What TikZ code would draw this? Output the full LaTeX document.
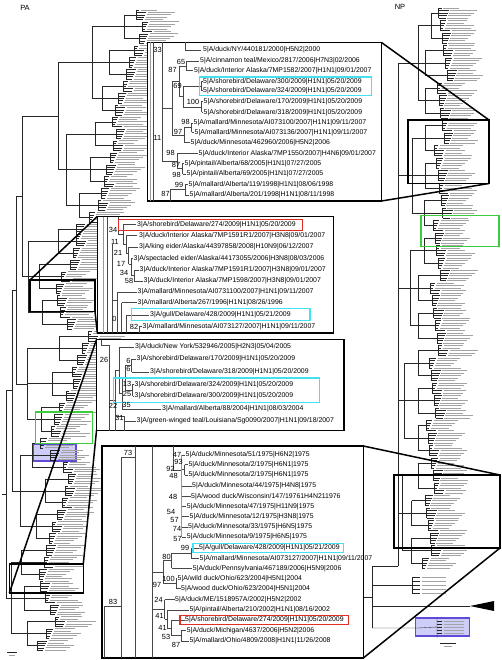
\documentclass[tikz,border=0pt]{standalone}
\usepackage{fontspec}
\setmainfont{Liberation Sans}
\definecolor{cyanc}{RGB}{70,225,240}
\definecolor{redc}{RGB}{225,45,35}
\definecolor{greenc}{RGB}{60,205,60}
\definecolor{purplec}{RGB}{95,75,215}
\definecolor{purplefill}{RGB}{205,205,248}
\tikzset{
 tl/.style={line width=0.35pt, black!85},
 lbar/.style={line width=0.9pt, black!36},
 itree/.style={line width=0.55pt, black!72},
 ithick/.style={line width=1.4pt, black!40},
 leaf/.style={anchor=west, inner sep=0pt, font=\fontsize{6.9}{7}\selectfont},
 boot/.style={inner sep=0pt, font=\fontsize{7.4}{8}\selectfont},
 ttl/.style={inner sep=0pt, font=\fontsize{7.5}{8}\selectfont},
 inset/.style={draw=black, line width=1.6pt, fill=white},
 zbox/.style={draw=black, line width=1.5pt},
 link/.style={line width=1.5pt, black},
 cyanbox/.style={draw=cyanc, line width=1.3pt},
 redbox/.style={draw=redc, line width=1.3pt},
 greenbox/.style={draw=greenc, line width=1.5pt},
 purplebox/.style={draw=purplec, fill=purplefill, line width=1.5pt},
}
\def\Barr{{140,138,136,132,128,126,124,120,118,116,112,110,108,105,104,102,100,92,80,72,70,68,60,56,58,62,70,92,78,74,70,72,66,60,56,54,44,46,60,66,64,62,58,54,52,50,40,36,38,44,50,56,48,40}}
\def\Garr{{124,109,102,95,90,79,58,39,42,59,52,41,32,45,36,21,24,27}}
\def\Sarr{{92,66,28,27,20,11}}
\begin{document}
\begin{tikzpicture}[x=1pt,y=-1pt]
\useasboundingbox (0,0) rectangle (502,660);
\fill[white] (0,0) rectangle (502,660);

% purple highlight boxes (under the trees)
\draw[purplebox] (33.3,444) rectangle (76,461);
\draw[purplebox] (415.7,618) rectangle (469.3,636);

% ===== PA tree =====
\foreach \k in {0,...,53}{
  \pgfmathsetmacro{\ya}{10+11.9*\k}
  \pgfmathsetmacro{\yb}{\ya+9.52}
  \pgfmathsetmacro{\xc}{\Barr[\k]+mod(\k*17,9)-4}
  \draw[tl] (\xc,\ya) -- (\xc,\yb);
  \foreach \j in {0,...,4}{
    \pgfmathsetmacro{\yy}{\ya+2.38*\j}
    \pgfmathsetmacro{\xt}{\xc+3+mod((5*\k+\j)*7,8)}
    \pgfmathsetmacro{\xs}{\xt+1.5}
    \pgfmathsetmacro{\tlen}{16+mod((5*\k+\j)*11,14)}
    \draw[tl] (\xc,\yy) -- (\xt,\yy);
    \draw[lbar] (\xs,\yy) -- ++(\tlen,0);
  }
}
\foreach \g in {0,...,17}{
  \pgfmathsetmacro{\xg}{\Garr[\g]}
  \pgfmathsetmacro{\ya}{14.76+11.9*3*\g}
  \pgfmathsetmacro{\yb}{\ya+23.8}
  \draw[tl] (\xg,\ya) -- (\xg,\yb);
  \foreach \c in {0,1,2}{
    \pgfmathtruncatemacro{\kk}{3*\g+\c}
    \pgfmathsetmacro{\yc}{14.76+11.9*\kk}
    \pgfmathsetmacro{\xc}{\Barr[\kk]+mod(\kk*17,9)-4}
    \draw[tl] (\xg,\yc) -- (\xc,\yc);
  }
}
\foreach \s in {0,...,5}{
  \pgfmathsetmacro{\xs}{\Sarr[\s]}
  \pgfmathsetmacro{\ya}{14.76+11.9*(9*\s+1)}
  \pgfmathsetmacro{\yb}{14.76+11.9*(9*\s+7)}
  \draw[tl] (\xs,\ya) -- (\xs,\yb);
  \foreach \c in {0,1,2}{
    \pgfmathtruncatemacro{\gg}{3*\s+\c}
    \pgfmathsetmacro{\yc}{14.76+11.9*(3*\gg+1)}
    \pgfmathsetmacro{\xg}{\Garr[\gg]}
    \draw[tl] (\xs,\yc) -- (\xg,\yc);
  }
}
% deep nodes of PA
\draw[tl] (58,62.4) -- (58,169.5) (58,62.4) -- (92,62.4) (58,169.5) -- (66,169.5);
\draw[tl] (22,116) -- (22,276.6) (22,116) -- (58,116) (22,276.6) -- (28,276.6);
\draw[tl] (16,196) -- (16,383.7) (16,196) -- (22,196) (16,383.7) -- (27,383.7);
\draw[tl] (12,290) -- (12,490.8) (12,290) -- (16,290) (12,490.8) -- (20,490.8);
\draw[tl] (6,390) -- (6,597.9) (6,390) -- (12,390) (6,597.9) -- (11,597.9);
\draw[tl] (2,494) -- (6,494);
% PA scale bar
\draw[tl] (7,652) -- (17,652);
\draw[lbar, line width=0.8pt] (9,655.5) -- (15,655.5);

% ===== NP tree =====
\foreach \k in {0,...,44}{
  \pgfmathsetmacro{\ya}{8+12.5*\k}
  \pgfmathsetmacro{\yb}{\ya+10}
  \pgfmathsetmacro{\xc}{444-0.03*(\ya+5)+mod(\k*13,11)-5}
  \draw[tl] (\xc,\ya) -- (\xc,\yb);
  \foreach \j in {0,...,4}{
    \pgfmathsetmacro{\yy}{\ya+2.5*\j}
    \pgfmathsetmacro{\xt}{\xc+3+mod((5*\k+\j)*7,8)}
    \pgfmathsetmacro{\xs}{\xt+1.5}
    \pgfmathsetmacro{\tlen}{16+mod((5*\k+\j)*11,13)}
    \draw[tl] (\xc,\yy) -- (\xt,\yy);
    \draw[lbar] (\xs,\yy) -- ++(\tlen,0);
  }
}
\foreach \g in {0,...,14}{
  \pgfmathsetmacro{\ym}{13+12.5*(3*\g+1)}
  \pgfmathsetmacro{\xg}{444-0.03*\ym-12-mod(\g*5,6)}
  \pgfmathsetmacro{\ya}{13+12.5*3*\g}
  \pgfmathsetmacro{\yb}{\ya+25}
  \draw[tl] (\xg,\ya) -- (\xg,\yb);
  \foreach \c in {0,1,2}{
    \pgfmathtruncatemacro{\kk}{3*\g+\c}
    \pgfmathsetmacro{\yc}{13+12.5*\kk}
    \pgfmathsetmacro{\xc}{444-0.03*(8+12.5*\kk+5)+mod(\kk*13,11)-5}
    \draw[tl] (\xg,\yc) -- (\xc,\yc);
  }
}
\foreach \s in {0,...,4}{
  \pgfmathsetmacro{\ym}{13+12.5*(9*\s+4)}
  \pgfmathsetmacro{\xs}{444-0.03*\ym-24-mod(\s*3,5)}
  \pgfmathsetmacro{\ya}{13+12.5*(9*\s+1)}
  \pgfmathsetmacro{\yb}{13+12.5*(9*\s+7)}
  \draw[tl] (\xs,\ya) -- (\xs,\yb);
  \draw[tl] (398,\ym) -- (\xs,\ym);
  \foreach \c in {0,1,2}{
    \pgfmathtruncatemacro{\gg}{3*\s+\c}
    \pgfmathsetmacro{\yc}{13+12.5*(3*\gg+1)}
    \pgfmathsetmacro{\xg}{444-0.03*\yc-12-mod(\gg*5,6)}
    \draw[tl] (\xs,\yc) -- (\xg,\yc);
  }
}
\draw[tl] (398,63) -- (398,566) (372,566) -- (398,566) (372,566) -- (372,628) (360,597) -- (372,597);
\draw[tl] (372,585) -- (412,585) (412,577) -- (412,593);
\foreach \yy in {577,581,585,589,593}{
  \draw[tl] (412,\yy) -- (420,\yy);
  \draw[lbar] (421.5,\yy) -- ++(24,0);
}
\draw[tl] (372,606) -- (470,606);
\fill[black] (470,606) -- (494,601) -- (494,611) -- cycle;
\draw[tl] (372,628) -- (418,628) (418,628) -- (437,627) (437,621) -- (437,633) (437,618) -- (437,638);
\foreach \yy in {621,624,627,630,633}{
  \draw[tl] (437,\yy) -- (442,\yy);
  \draw[lbar, line width=0.8pt] (443.5,\yy) -- ++(20,0);
}
% NP scale bar
\draw[tl] (440,643) -- (456,643);
\draw[lbar, line width=0.8pt] (444,646.5) -- (452,646.5);

% titles
\node[ttl] (pa) at (25,8) {PA};
\node[ttl] (np) at (400,6.5) {NP};

% ===== highlight / zoom boxes on trees =====
\draw[greenbox] (35.7,411.8) rectangle (92.3,443.4);
\draw[greenbox] (421,215.6) rectangle (499,246.3);
\draw[zbox] (30,280) rectangle (95,311.6);
\draw[zbox] (9.3,564) rectangle (83.3,593);
\draw[zbox] (408,120) rectangle (489,183.5);
\draw[zbox] (394,475) rectangle (500,548);

% ===== links =====
\coordinate (c1a) at (381.5,42.5); \coordinate (c1b) at (489,120);
\coordinate (c1c) at (381.5,201); \coordinate (c1d) at (489,183.5);
\coordinate (c2a) at (30,280); \coordinate (c2b) at (97.3,216.5);
\coordinate (c2c) at (95,311.6); \coordinate (c2d) at (97.3,332.8);
\coordinate (c3a) at (9.3,593); \coordinate (c3b) at (96.5,339.5);
\coordinate (c3c) at (83.3,564); \coordinate (c3d) at (96.5,430.5);
\coordinate (c4a) at (363.3,446); \coordinate (c4b) at (500,475);
\coordinate (c4c) at (363.3,658); \coordinate (c4d) at (500,548);
\draw[link] (c1a) -- (c1b);
\draw[link] (c1c) -- (c1d);
\draw[link] (c2a) -- (c2b);
\draw[link] (c2c) -- (c2d);
\draw[link] (c3a) -- (c3b);
\draw[link] (c3c) -- (c3d);
\draw[link] (c4a) -- (c4b);
\draw[link] (c4c) -- (c4d);

% ===== Inset 1 (NP) =====
\draw[inset] (147.3,42.5) rectangle (381.5,201);
\draw[ithick] (150.5,42.5) -- (150.5,201);
\draw[itree] (153.5,42.5) -- (153.5,201);
\draw[itree] (162,42.5) -- (162,161) (162,108) -- (172,108) (162,161) -- (177,161);
\draw[itree] (185,42.5) -- (185,50) -- (201,50);
\draw[itree] (186,61) -- (186,70.7) (186,61) -- (199,61) (186,70.7) -- (193,70.7);
\draw[itree] (183,86.2) -- (183,107) (183,86.2) -- (201,86.2) (201,81.7) -- (201,90.7) (201,81.7) -- (203,81.7) (201,90.7) -- (203,90.7)
  (183,107) -- (201.5,107) (201.5,101.5) -- (201.5,112.5) (201.5,101.5) -- (203,101.5) (201.5,112.5) -- (203,112.5);
\draw[itree] (179,65.8) -- (179,96.6) (179,65.8) -- (186,65.8) (179,96.6) -- (183,96.6);
\draw[itree] (191.5,122.8) -- (191.5,132.3) (191.5,122.8) -- (193,122.8) (191.5,132.3) -- (194,132.3)
  (184,127.5) -- (184,142.5) (184,127.5) -- (191.5,127.5) (184,142.5) -- (190,142.5);
\draw[itree] (172,81.2) -- (172,135) (172,81.2) -- (179,81.2) (172,135) -- (184,135);
\draw[itree] (177,153.3) -- (177,168.7) (177,153.3) -- (198,153.3) (177,168.7) -- (182.5,168.7)
  (182.5,163.5) -- (182.5,174) (182.5,163.5) -- (184,163.5) (182.5,174) -- (186,174);
\draw[itree] (170,189.6) -- (170,201) (170,189.6) -- (185,189.6) (185,184.5) -- (185,194.8) (185,184.5) -- (188,184.5) (185,194.8) -- (189,194.8);
\draw[cyanbox] (199.5,77) rectangle (371.5,95.5);
\node[leaf] (a1) at (203,50) {5|A/duck/NY/440181/2000|H5N2|2000};
\node[leaf] (a2) at (200,61) {5|A/cinnamon teal/Mexico/2817/2006|H7N3|02/2006};
\node[leaf] (a3) at (194,70.7) {5|A/duck/Interior Alaska/7MP1582/2007|H1N1|09/01/2007};
\node[leaf] (a4) at (203,81.7) {5|A/shorebird/Delaware/300/2009|H1N1|05/20/2009};
\node[leaf] (a5) at (203,90.7) {5|A/shorebird/Delaware/324/2009|H1N1|05/20/2009};
\node[leaf] (a6) at (203.5,101.5) {5|A/shorebird/Delaware/170/2009|H1N1|05/20/2009};
\node[leaf] (a7) at (203.5,112.5) {5|A/shorebird/Delaware/318/2009|H1N1|05/20/2009};
\node[leaf] (a8) at (193.5,122.8) {5|A/mallard/Minnesota/AI073100/2007|H1N1|09/11/2007};
\node[leaf] (a9) at (194.5,132.3) {5|A/mallard/Minnesota/AI073136/2007|H1N1|09/11/2007};
\node[leaf] (a10) at (190.5,142.5) {5|A/duck/Minnesota/462960/2006|H5N2|2006};
\node[leaf] (a11) at (198.5,153.3) {5|A/duck/Interior Alaska/7MP1550/2007|H4N6|09/01/2007};
\node[leaf] (a12) at (184.5,163.5) {5|A/pintail/Alberta/68/2005|H1N1|07/27/2005};
\node[leaf] (a13) at (186.5,174) {5|A/pintail/Alberta/69/2005|H1N1|07/27/2005};
\node[leaf] (a14) at (188.5,184.5) {5|A/mallard/Alberta/119/1998|H1N1|08/06/1998};
\node[leaf] (a15) at (189.5,194.8) {5|A/mallard/Alberta/201/1998|H1N1|08/11/1998};
\node[boot] (ab1) at (157.5,50) {33};
\node[boot] (ab2) at (181,61.5) {65};
\node[boot] (ab3) at (172.5,69.5) {87};
\node[boot] (ab4) at (177.5,86) {69};
\node[boot] (ab5) at (193,102) {100};
\node[boot] (ab6) at (185.5,122) {98};
\node[boot] (ab7) at (178,131.5) {97};
\node[boot] (ab8) at (157.5,138) {11};
\node[boot] (ab9) at (170.5,152.5) {98};
\node[boot] (ab10) at (176,164.5) {87};
\node[boot] (ab11) at (176.5,174.5) {98};
\node[boot] (ab12) at (179,184.5) {99};
\node[boot] (ab13) at (165.5,193.5) {87};

% ===== Inset 2 (PA) =====
\draw[inset] (97.3,216.5) rectangle (333.5,332.8);
\draw[ithick] (103.5,216.5) -- (103.5,332.8);
\draw[itree] (107,216.5) -- (107,332.8);
\draw[itree] (118,216.5) -- (118,234.3) -- (123,234.3);
\draw[itree] (123,224.6) -- (123,244) (123,224.6) -- (136,224.6) (123,244) -- (126,244);
\draw[itree] (126,235.5) -- (126,253) (126,235.5) -- (137,235.5) (126,253) -- (128.5,253);
\draw[itree] (128.5,247) -- (128.5,264) (128.5,247) -- (137.5,247) (128.5,264) -- (131,264);
\draw[itree] (131,258.5) -- (131,275.5) (131,258.5) -- (132.5,258.5) (131,275.5) -- (134,275.5);
\draw[itree] (134,270) -- (134,281) (134,270) -- (138.5,270) (134,281) -- (142.5,281);
\draw[itree] (112,244) -- (112,332.8) (112,300) -- (117,300);
\draw[itree] (117,292) -- (117,332.8) (117,292) -- (136.5,292);
\draw[itree] (121.5,302.5) -- (121.5,332.8) (121.5,302.5) -- (136.5,302.5);
\draw[itree] (126,315) -- (126,332.8) (126,315) -- (149,315);
\draw[itree] (139,326.7) -- (139,332.8) (139,326.7) -- (141.5,326.7);
\draw[redbox] (118.3,219.3) rectangle (302.7,230.5);
\draw[cyanbox] (131.7,308.6) rectangle (310,320.5);
\node[leaf] (b1) at (137,224.6) {3|A/shorebird/Delaware/274/2009|H1N1|05/20/2009};
\node[leaf] (b2) at (139,235.5) {3|A/duck/Interior Alaska/7MP1591R1/2007|H3N8|09/01/2007};
\node[leaf] (b3) at (139,247) {3|A/king eider/Alaska/44397858/2008|H10N9|06/12/2007};
\node[leaf] (b4) at (133.5,258.5) {3|A/spectacled eider/Alaska/44173055/2006|H3N8|08/03/2006};
\node[leaf] (b5) at (139.5,270) {3|A/duck/Interior Alaska/7MP1591R1/2007|H3N8|09/01/2007};
\node[leaf] (b6) at (143.5,281) {3|A/duck/Interior Alaska/7MP1598/2007|H3N8|09/01/2007};
\node[leaf] (b7) at (137.5,292) {3|A/mallard/Minnesota/AI0731100/2007|H1N1|09/11/2007};
\node[leaf] (b8) at (137.5,302.5) {3|A/mallard/Alberta/267/1996|H1N1|08/26/1996};
\node[leaf] (b9) at (150,315) {3|A/gull/Delaware/428/2009|H1N1|05/21/2009};
\node[leaf] (b10) at (142.5,326.7) {3|A/mallard/Minnesota/AI073127/2007|H1N1|09/11/2007};
\node[boot] (bb1) at (113,229.5) {34};
\node[boot] (bb2) at (115,242) {11};
\node[boot] (bb3) at (118,253) {21};
\node[boot] (bb4) at (121,263.5) {17};
\node[boot] (bb5) at (124,272.5) {34};
\node[boot] (bb6) at (129,281) {58};
\node[boot] (bb7) at (114.5,319) {0};
\node[boot] (bb8) at (134,327) {82};

% ===== Inset 3 (PA) =====
\draw[inset] (96.5,339.5) rectangle (344,430.5);
\draw[itree] (101.5,339.5) -- (101.5,345) -- (109,345) (109,345) -- (109,430.5);
\draw[itree] (115,370) -- (115,430.5) (109,400) -- (115,400) (115,370) -- (119,370) (115,416) -- (124,416);
\draw[itree] (119,347) -- (119,393.3) (119,347) -- (134,347) (119,393.3) -- (122,393.3);
\draw[itree] (131.5,359) -- (131.5,371.8) (131.5,359) -- (135.5,359) (131.5,371.8) -- (149,371.8);
\draw[itree] (132.5,384.4) -- (132.5,396.2) (132.5,384.4) -- (133.5,384.4) (132.5,396.2) -- (133.5,396.2);
\draw[itree] (125,365.4) -- (125,390.3) (125,365.4) -- (131.5,365.4) (125,390.3) -- (132.5,390.3);
\draw[itree] (122,377.9) -- (122,408.8) (122,377.9) -- (125,377.9) (122,408.8) -- (161,408.8);
\draw[itree] (124,416) -- (124,430.5) (124,421) -- (135.5,421);
\draw[cyanbox] (113.3,378) rectangle (319.3,402.5);
\node[leaf] (c1) at (135,347) {3|A/duck/New York/532946/2005|H2N3|05/04/2005};
\node[leaf] (c2) at (136.5,359) {3|A/shorebird/Delaware/170/2009|H1N1|05/20/2009};
\node[leaf] (c3) at (150,371.8) {3|A/shorebird/Delaware/318/2009|H1N1|05/20/2009};
\node[leaf] (c4) at (134.5,384.4) {3|A/shorebird/Delaware/324/2009|H1N1|05/20/2009};
\node[leaf] (c5) at (134.5,396.2) {3|A/shorebird/Delaware/300/2009|H1N1|05/20/2009};
\node[leaf] (c6) at (162,408.8) {3|A/mallard/Alberta/88/2004|H1N1|08/03/2004};
\node[leaf] (c7) at (136.5,421) {3|A/green-winged teal/Louisiana/Sg0090/2007|H1N1|09/18/2007};
\node[boot] (cb1) at (104,360) {26};
\node[boot] (cb2) at (128.5,361) {6};
\node[boot] (cb3) at (128.5,369) {6};
\node[boot] (cb4) at (127,384) {13};
\node[boot] (cb5) at (127,393.5) {25};
\node[boot] (cb6) at (113,405.5) {22};
\node[boot] (cb7) at (126.5,404.5) {35};
\node[boot] (cb8) at (119.5,418) {31};

% ===== Inset 4 (NP) =====
\draw[inset] (101.7,446) rectangle (363.3,658);
\draw[itree] (104,606) -- (104,658) (104,606) -- (121,606);
\draw[itree] (121,457) -- (121,658) (121,457) -- (135,457);
\draw[itree] (135,446) -- (135,658);
\draw[itree] (152,446) -- (152,658);
\draw[itree] (173,446) -- (173,470) (173,470) -- (181.5,470);
\draw[ithick] (181.5,455) -- (181.5,537);
\draw[itree] (181.5,455) -- (184.5,455) (184.5,464.5) -- (184.5,475) (181.5,469.7) -- (184.5,469.7)
  (184.5,464.5) -- (187.5,464.5) (184.5,475) -- (187.5,475)
  (181.5,486) -- (191.5,486) (181.5,496.5) -- (190.5,496.5) (181.5,506.5) -- (186,506.5)
  (181.5,516.7) -- (189,516.7) (181.5,527) -- (187.5,527) (181.5,537) -- (186,537);
\draw[itree] (191,548) -- (191,558.3) (191,548) -- (198.5,548) (191,558.3) -- (199,558.3);
\draw[itree] (171.5,553) -- (171.5,568.3) (171.5,553) -- (191,553) (171.5,568.3) -- (192,568.3);
\draw[itree] (176,578.5) -- (176,588.5) (176,578.5) -- (177,578.5) (176,588.5) -- (180.5,588.5);
\draw[itree] (163,560.7) -- (163,583.5) (163,560.7) -- (171.5,560.7) (163,583.5) -- (176,583.5);
\draw[itree] (152,572) -- (163,572) (152,609.2) -- (164.5,609.2);
\draw[itree] (164.5,599.5) -- (164.5,619) (164.5,599.5) -- (174.5,599.5) (164.5,619) -- (167,619);
\draw[itree] (167,610) -- (167,627.9) (167,610) -- (188.5,610) (167,627.9) -- (171,627.9);
\draw[itree] (171,620) -- (171,635.7) (171,620) -- (184.5,620) (171,635.7) -- (181,635.7);
\draw[itree] (181,630.5) -- (181,641) (181,630.5) -- (186,630.5) (181,641) -- (188.5,641);
\draw[cyanbox] (193,543.5) rectangle (343.3,552.5);
\draw[redbox] (180,615.3) rectangle (348.3,624.5);
\node[leaf] (d1) at (185.5,455) {5|A/duck/Minnesota/51/1975|H6N2|1975};
\node[leaf] (d2) at (188.3,464.5) {5|A/duck/Minnesota/2/1975|H6N1|1975};
\node[leaf] (d3) at (188.3,475) {5|A/duck/Minnesota/2/1975|H6N1|1975};
\node[leaf] (d4) at (192,486) {5|A/duck/Minnesota/44/1975|H4N8|1975};
\node[leaf] (d5) at (191,496.5) {5|A/wood duck/Wisconsin/147/19761H4N211976};
\node[leaf] (d6) at (186.7,506.5) {5|A/duck/Minnesota/47/1975|H11N9|1975};
\node[leaf] (d7) at (189.5,516.7) {5|A/duck/Minnesota/12/1975|H3N8|1975};
\node[leaf] (d8) at (188,527) {5|A/duck/Minnesota/33/1975|H6N5|1975};
\node[leaf] (d9) at (186.7,537) {5|A/duck/Minnesota/9/1975|H6N5|1975};
\node[leaf] (d10) at (199,548) {5|A/gull/Delaware/428/2009|H1N1|05/21/2009};
\node[leaf] (d11) at (199.5,558.3) {5|A/mallard/Minnesota/AI073127/2007|H1N1|09/11/2007};
\node[leaf] (d12) at (192.7,568.3) {5|A/duck/Pennsylvania/467189/2006|H5N9|2006};
\node[leaf] (d13) at (177.5,578.5) {5|A/wild duck/Ohio/623/2004|H5N1|2004};
\node[leaf] (d14) at (181,588.5) {5|A/wood duck/Ohio/623/2004|H5N1|2004};
\node[leaf] (d15) at (175,599.5) {5|A/duck/ME/1518957A/2002|H5N2|2002};
\node[leaf] (d16) at (189.3,610) {5|A/pintail/Alberta/210/2002|H1N1|08/16/2002};
\node[leaf] (d17) at (185,620) {5|A/shorebird/Delaware/274/2009|H1N1|05/20/2009};
\node[leaf] (d18) at (186.7,630.5) {5|A/duck/Michigan/4637/2006|H5N2|2006};
\node[leaf] (d19) at (189.3,641) {5|A/mallard/Ohio/4809/2008|H1N1|11/26/2008};
\node[boot] (db1) at (128,452.5) {73};
\node[boot] (db2) at (177,455) {47};
\node[boot] (db3) at (178.5,461.5) {93};
\node[boot] (db4) at (170.5,468.5) {92};
\node[boot] (db5) at (173.5,475.5) {48};
\node[boot] (db6) at (173,496.5) {48};
\node[boot] (db7) at (171,511.5) {54};
\node[boot] (db8) at (174.5,519.5) {57};
\node[boot] (db9) at (177,528.8) {74};
\node[boot] (db10) at (177.5,538.5) {57};
\node[boot] (db11) at (185,548) {99};
\node[boot] (db12) at (166.5,556.5) {80};
\node[boot] (db13) at (168.5,578.5) {100};
\node[boot] (db14) at (157,585) {97};
\node[boot] (db15) at (158.5,600) {24};
\node[boot] (db16) at (159.5,616) {41};
\node[boot] (db17) at (162.5,627.5) {41};
\node[boot] (db18) at (166,637) {53};
\node[boot] (db19) at (176,645) {87};
\node[boot] (db20) at (113,602) {83};
\end{tikzpicture}
\end{document}
